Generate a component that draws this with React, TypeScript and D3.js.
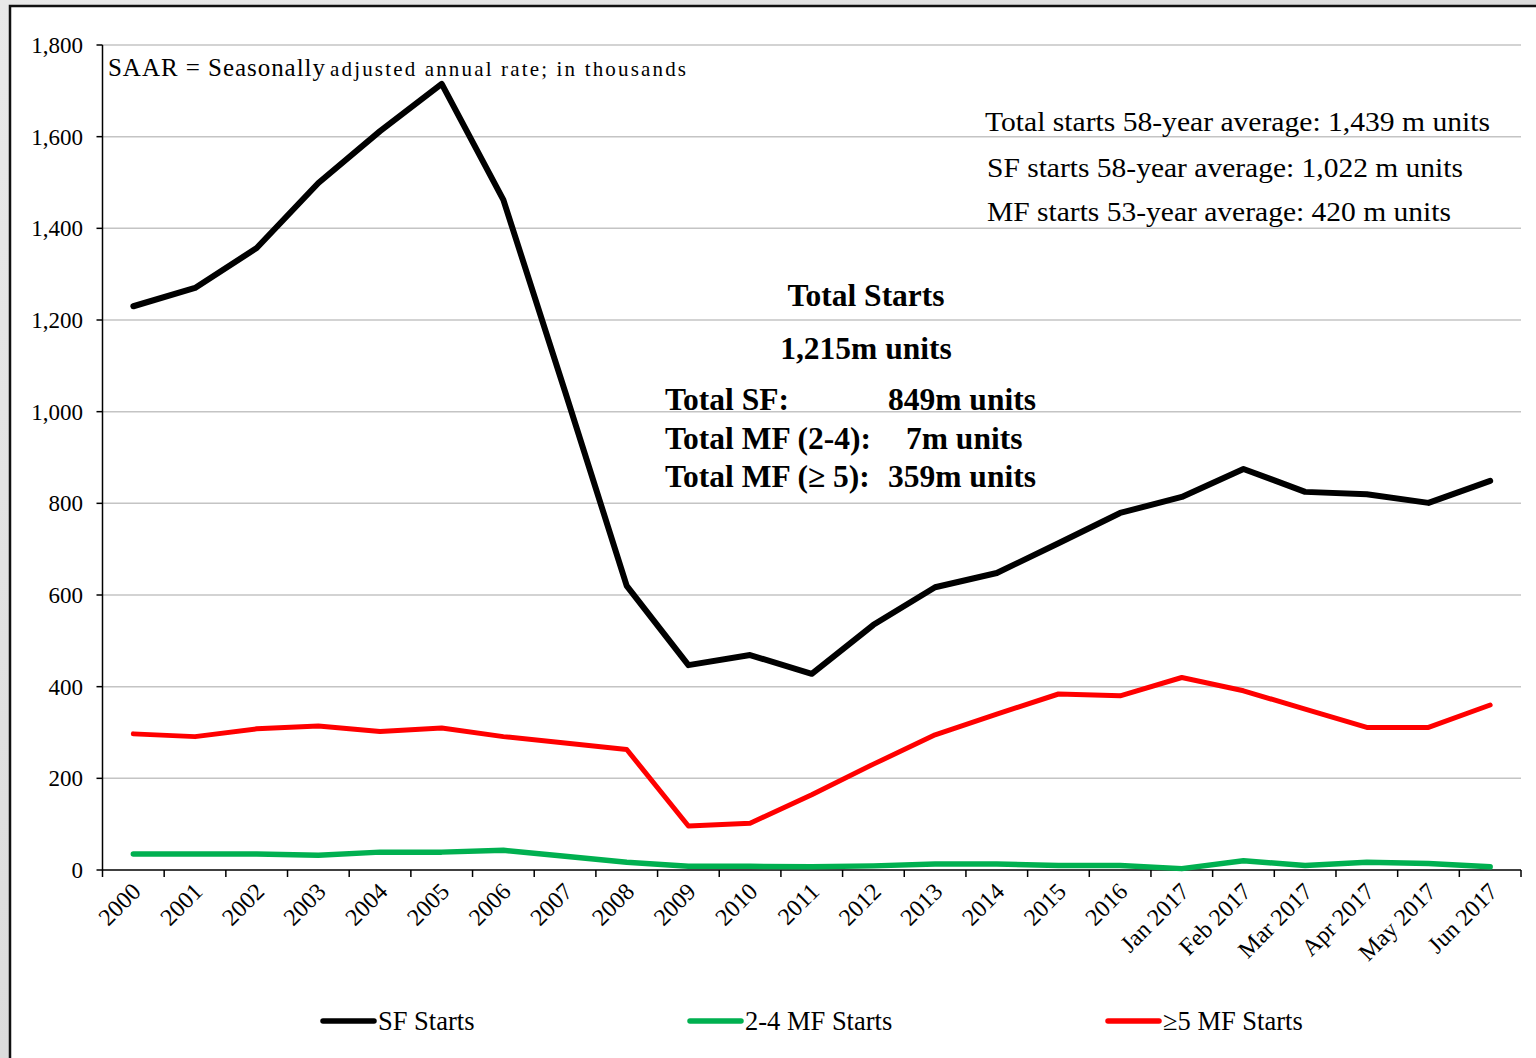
import React from "react";
import * as d3 from "d3";

const categories = [
  "2000", "2001", "2002", "2003", "2004", "2005", "2006", "2007", "2008",
  "2009", "2010", "2011", "2012", "2013", "2014", "2015", "2016",
  "Jan 2017", "Feb 2017", "Mar 2017", "Apr 2017", "May 2017", "Jun 2017",
];

const sfStarts = [
  1230, 1270, 1357, 1499, 1612, 1715, 1462, 1044, 620,
  447, 469, 428, 535, 617, 648, 713, 779,
  814, 875, 825, 820, 801, 849,
];

const mf24Starts = [
  35, 35, 35, 32, 39, 39, 43, 30, 17,
  8, 8, 7, 9, 13, 13, 10, 10,
  3, 20, 10, 17, 14, 7,
];

const mf5Starts = [
  297, 291, 308, 314, 302, 310, 291, 277, 263,
  96, 102, 164, 231, 295, 340, 384, 380,
  420, 391, 351, 311, 311, 360,
];

const yTicks = [0, 200, 400, 600, 800, 1000, 1200, 1400, 1600, 1800];

const seriesList = [
  { name: "SF Starts", values: sfStarts, color: "#000000", width: 6 },
  { name: "≥5 MF Starts", values: mf5Starts, color: "#ff0000", width: 5 },
  { name: "2-4 MF Starts", values: mf24Starts, color: "#00b050", width: 5.5 },
];

const legendItems = [
  { label: "SF Starts", color: "#000000", x: 323 },
  { label: "2-4 MF Starts", color: "#00b050", x: 690 },
  { label: "≥5 MF Starts", color: "#ff0000", x: 1108 },
];

const avgNotes = [
  { text: "Total starts 58-year average: 1,439 m units", x: 985, y: 131, len: 505 },
  { text: "SF starts 58-year average: 1,022 m units", x: 987, y: 177, len: 476 },
  { text: "MF starts 53-year average: 420 m units", x: 987, y: 221, len: 464 },
];

const FONT = "'Liberation Serif', 'Times New Roman', serif";

export default function App() {
  const W = 1536;
  const H = 1058;
  const left = 102.5;
  const right = 1521;
  const top = 45;
  const bottom = 870;

  const x = d3.scaleBand<string>().domain(categories).range([left, right]).padding(0);
  const bw = x.bandwidth();
  const cx = (c: string) => (x(c) as number) + bw / 2;
  const y = d3.scaleLinear().domain([0, 1800]).range([bottom, top]);

  const line = d3
    .line<number>()
    .x((_, i) => cx(categories[i]))
    .y((d) => y(d))
    .curve(d3.curveLinear);

  const boundaries = categories.map((c) => x(c) as number).concat([right]);

  return (
    <div style={{ position: "absolute", left: 0, top: 0 }}>
      <svg width={W} height={H} style={{ display: "block" }} fontFamily={FONT}>
        <defs>
          <linearGradient id="bg" x1="0" y1="0" x2="1" y2="1">
            <stop offset="0" stopColor="#e9e9e9" />
            <stop offset="0.5" stopColor="#dcdcdc" />
            <stop offset="1" stopColor="#e6e6e6" />
          </linearGradient>
        </defs>
        <rect x={0} y={0} width={W} height={H} fill="url(#bg)" />
        <rect x={10} y={6} width={W + 20} height={H + 20} fill="#ffffff" stroke="#111" strokeWidth={2.5} />

        {/* gridlines */}
        {yTicks.filter((t) => t > 0).map((t) => (
          <line key={"g" + t} x1={left} x2={right} y1={y(t)} y2={y(t)} stroke="#c4c4c4" strokeWidth={1.5} />
        ))}

        {/* y axis */}
        <line x1={left} x2={left} y1={top} y2={bottom} stroke="#000" strokeWidth={1.5} />
        {yTicks.map((t) => (
          <g key={"yt" + t}>
            <line x1={left - 6} x2={left} y1={y(t)} y2={y(t)} stroke="#000" strokeWidth={1.5} />
            <text x={83} y={y(t)} dy="0.35em" textAnchor="end" fontSize={23} fill="#000">
              {d3.format(",")(t)}
            </text>
          </g>
        ))}

        {/* x axis */}
        <line x1={left} x2={right} y1={bottom} y2={bottom} stroke="#000" strokeWidth={1.5} />
        {boundaries.map((b, i) => (
          <line key={"xt" + i} x1={b} x2={b} y1={bottom} y2={bottom + 7} stroke="#000" strokeWidth={1.5} />
        ))}
        {categories.map((c) => (
          <text
            key={"xl" + c}
            transform={`translate(${cx(c) + 3},${bottom + 17}) rotate(-45)`}
            textAnchor="end"
            dy="0.35em"
            fontSize={24}
            fill="#000"
          >
            {c}
          </text>
        ))}

        {/* series */}
        {seriesList.map((s) => (
          <path
            key={s.name}
            d={line(s.values) as string}
            fill="none"
            stroke={s.color}
            strokeWidth={s.width}
            strokeLinejoin="round"
            strokeLinecap="round"
          />
        ))}

        {/* notes */}
        <text x={108} y={76} fill="#000">
          <tspan fontSize={25} textLength={217} lengthAdjust="spacing">SAAR  = Seasonally</tspan>
          <tspan x={330} fontSize={21} textLength={356} lengthAdjust="spacing">adjusted annual rate; in thousands</tspan>
        </text>

        {avgNotes.map((n) => (
          <text key={n.text} x={n.x} y={n.y} fontSize={28} fill="#000" textLength={n.len} lengthAdjust="spacingAndGlyphs">
            {n.text}
          </text>
        ))}

        <g fontWeight="bold" fontSize={31.5} fill="#000">
          <text x={866} y={306} textAnchor="middle">Total Starts</text>
          <text x={866} y={359} textAnchor="middle">1,215m units</text>
          <text x={665} y={410}>Total SF:</text>
          <text x={888} y={410}>849m units</text>
          <text x={665} y={449}>Total MF (2-4):</text>
          <text x={906} y={449}>7m units</text>
          <text x={665} y={487}>Total MF (≥ 5):</text>
          <text x={888} y={487}>359m units</text>
        </g>

        {/* legend */}
        {legendItems.map((l) => (
          <g key={l.label}>
            <line x1={l.x} x2={l.x + 51} y1={1021} y2={1021} stroke={l.color} strokeWidth={5.5} strokeLinecap="round" />
            <text x={l.x + 55} y={1030} fontSize={26.5} fill="#000">
              {l.label}
            </text>
          </g>
        ))}
      </svg>
    </div>
  );
}
